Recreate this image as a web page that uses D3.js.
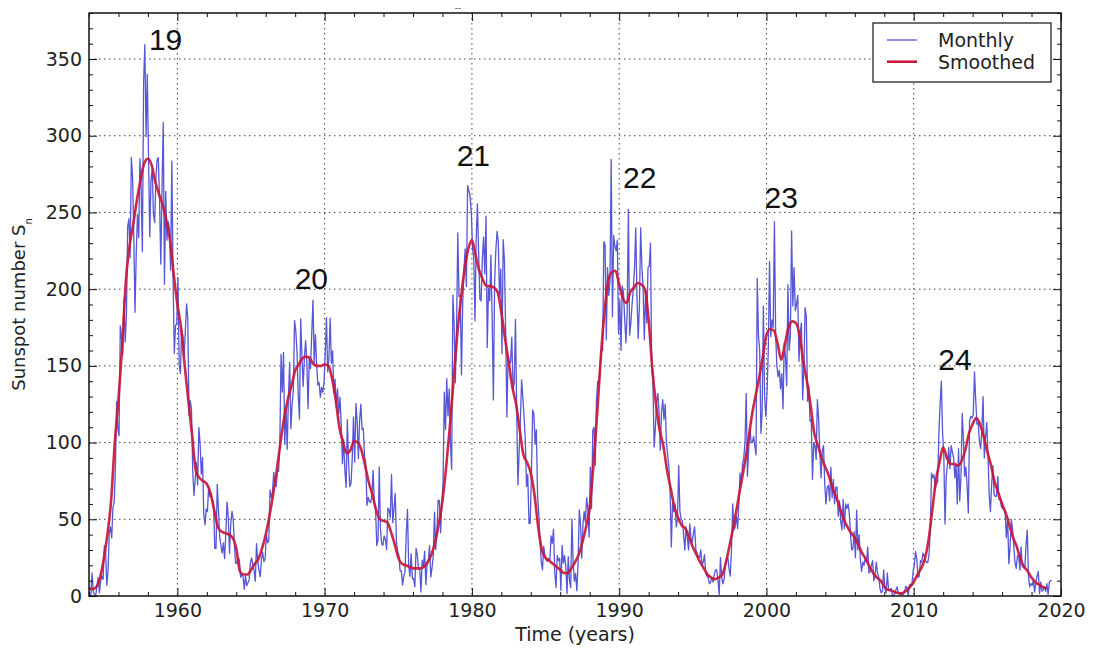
<!DOCTYPE html>
<html>
<head>
<meta charset="utf-8">
<script src="https://cdn.jsdelivr.net/npm/d3@7"></script>
<style>
  body { margin: 0; background: #fff; }
  svg { display: block; }
</style>
</head>
<body>
<svg id="chart" width="1093" height="648"></svg>
<script>
// Monthly mean sunspot number, one row per year, starting Jan 1954
var monthlyStart = 1954;
var monthly1950s = [
    0.3, 0.7, 15.0, 2.5, 1.1, 0.3, 6.8, 11.9, 2.1, 9.9, 13.1, 10.8,
    32.8, 29.5, 7.0, 16.0, 41.0, 45.0, 37.9, 57.8, 60.6, 83.1, 126.7, 109.2,
    104.5, 176.1, 168.1, 157.2, 194.0, 165.6, 183.3, 240.8, 245.9, 220.5, 285.8, 272.8,
    234.3, 184.9, 223.5, 248.8, 233.7, 285.0, 265.8, 224.4, 334.8, 359.4, 299.5, 340.0,
    287.6, 234.2, 270.8, 278.3, 248.9, 243.5, 271.8, 284.3, 285.7, 257.7, 216.3, 266.4,
    308.7, 203.2, 263.7, 231.9, 244.2, 239.6, 212.4, 283.4, 206.2, 158.2, 176.1, 177.5
];
var monthly1960s = [
    207.7, 150.5, 145.1, 173.2, 169.8, 156.5, 172.8, 190.4, 180.6, 117.6, 127.2, 121.6,
    82.2, 65.5, 75.3, 87.2, 72.4, 109.9, 99.7, 79.4, 90.3, 53.5, 46.3, 56.8,
    55.0, 71.4, 64.8, 65.9, 62.1, 59.6, 31.0, 31.0, 72.8, 56.1, 38.2, 32.9,
    28.1, 34.6, 24.3, 41.6, 61.1, 51.0, 27.8, 47.1, 55.1, 50.1, 33.2, 21.2,
    21.7, 25.1, 23.4, 12.2, 13.5, 12.9, 4.4, 13.2, 6.7, 8.7, 10.5, 21.4,
    24.9, 20.2, 16.6, 9.7, 34.2, 22.6, 16.9, 12.6, 23.9, 28.5, 22.4, 24.1,
    40.0, 34.6, 35.9, 69.2, 64.3, 67.7, 80.5, 72.7, 71.3, 81.2, 81.2, 100.0,
    157.5, 132.9, 158.8, 98.7, 122.8, 95.6, 129.9, 152.2, 109.1, 125.2, 133.9, 179.5,
    173.0, 158.9, 130.9, 115.3, 180.6, 156.6, 136.5, 155.2, 166.4, 152.9, 122.1, 155.9,
    148.2, 171.1, 192.8, 151.7, 170.4, 150.5, 137.5, 139.2, 129.6, 135.9, 132.8, 139.0
];
var monthly1970s = [
    158.3, 181.5, 146.1, 155.5, 181.1, 151.7, 159.8, 132.1, 141.3, 123.0, 135.2, 118.6,
    129.6, 112.2, 86.2, 102.0, 81.7, 70.7, 115.0, 87.2, 71.3, 73.4, 89.7, 116.7,
    87.3, 125.5, 113.7, 89.7, 114.3, 125.0, 108.6, 109.1, 90.9, 87.0, 59.1, 64.3,
    61.6, 60.9, 65.3, 81.9, 60.2, 56.1, 32.8, 36.4, 84.2, 43.6, 33.9, 33.1,
    39.2, 36.9, 30.2, 57.2, 56.1, 51.1, 79.2, 47.7, 57.1, 66.9, 35.5, 29.1,
    26.8, 16.3, 16.3, 7.2, 12.8, 16.2, 40.0, 56.4, 19.7, 12.9, 27.5, 11.1,
    11.5, 6.1, 31.1, 26.7, 17.6, 17.3, 2.7, 23.3, 19.2, 29.3, 7.4, 21.7,
    23.3, 32.8, 12.4, 18.3, 26.4, 54.7, 30.4, 42.7, 62.5, 62.2, 41.3, 61.3,
    73.7, 132.9, 108.6, 141.6, 117.4, 135.0, 100.0, 82.5, 196.2, 177.6, 139.0, 174.2,
    236.6, 195.3, 196.0, 144.1, 190.8, 212.3, 226.3, 201.9, 267.5, 264.4, 260.3, 250.3
];
var monthly1980s = [
    226.6, 220.1, 179.2, 233.0, 255.5, 223.4, 193.5, 192.3, 220.1, 233.9, 210.0, 247.6,
    161.9, 200.6, 192.4, 222.1, 181.1, 127.8, 204.2, 225.4, 237.6, 230.6, 195.3, 213.1,
    157.9, 232.3, 218.4, 173.2, 116.7, 156.8, 150.7, 152.8, 168.7, 134.5, 139.3, 180.3,
    119.7, 72.4, 94.4, 114.6, 140.9, 129.4, 116.7, 102.0, 71.4, 79.2, 47.3, 47.4,
    80.9, 121.3, 118.6, 99.0, 108.5, 65.5, 53.1, 36.2, 22.3, 17.0, 32.4, 26.6,
    23.4, 22.6, 24.4, 23.0, 39.1, 34.4, 43.6, 15.8, 5.5, 26.4, 23.0, 24.6,
    3.6, 32.9, 21.4, 26.3, 19.5, 1.6, 25.7, 10.5, 5.4, 50.3, 21.6, 9.7,
    14.8, 3.4, 20.9, 56.2, 46.9, 24.7, 46.9, 55.0, 48.1, 64.0, 56.7, 38.5,
    84.0, 57.0, 108.0, 110.0, 85.0, 128.0, 140.0, 138.0, 150.0, 160.0, 160.0, 231.0,
    229.0, 167.0, 214.0, 196.0, 205.0, 284.5, 182.0, 235.0, 228.0, 225.0, 232.0, 171.0
];
var monthly1990s = [
    193.0, 160.0, 202.0, 198.0, 180.0, 165.0, 185.0, 252.0, 170.0, 178.0, 190.0, 200.0,
    214.0, 240.0, 195.0, 168.0, 190.0, 240.0, 215.0, 200.0, 167.0, 199.0, 178.0, 214.0,
    215.0, 230.0, 150.0, 139.0, 97.0, 110.0, 126.0, 132.0, 120.0, 95.0, 120.0, 128.0,
    115.0, 125.0, 100.0, 92.0, 84.0, 68.0, 32.0, 62.0, 55.0, 60.0, 45.0, 50.0,
    85.0, 55.0, 50.0, 49.0, 40.0, 30.0, 45.0, 38.0, 30.0, 47.0, 38.0, 35.0,
    41.0, 45.0, 30.0, 28.0, 25.0, 25.0, 30.0, 20.0, 22.0, 27.0, 15.0, 13.0,
    12.0, 8.0, 9.0, 12.0, 9.0, 14.0, 17.0, 17.0, 10.0, 1.0, 25.0, 12.0,
    8.0, 11.0, 20.0, 24.0, 25.0, 18.0, 13.0, 30.0, 60.0, 43.0, 45.0, 52.0,
    44.0, 60.0, 80.0, 72.0, 86.0, 90.0, 100.0, 132.0, 78.0, 95.0, 110.0, 100.0,
    100.0, 104.0, 98.0, 92.0, 207.0, 170.0, 160.0, 106.0, 120.0, 189.0, 130.0, 117.0
];
var monthly2000s = [
    133.0, 160.0, 218.0, 169.0, 180.0, 175.0, 244.0, 170.0, 150.0, 143.0, 147.0, 135.0,
    145.0, 122.0, 165.0, 156.0, 137.0, 203.0, 160.0, 170.0, 238.0, 189.0, 214.0, 186.0,
    190.0, 196.0, 153.0, 172.0, 178.0, 128.0, 149.0, 188.0, 182.0, 127.0, 137.0, 114.0,
    115.0, 76.0, 100.0, 98.0, 89.0, 128.0, 116.0, 93.0, 77.0, 95.0, 98.0, 73.0,
    60.0, 71.0, 72.0, 62.0, 84.0, 64.0, 76.0, 60.0, 71.0, 71.0, 52.0, 62.0,
    49.0, 43.0, 63.0, 44.0, 60.0, 57.0, 60.0, 54.0, 40.0, 30.0, 31.0, 42.0,
    25.0, 56.0, 30.0, 40.0, 24.0, 16.0, 22.0, 20.0, 25.0, 22.0, 32.0, 15.0,
    16.0, 20.0, 23.0, 10.0, 13.0, 22.0, 15.0, 12.0, 5.0, 2.0, 3.0, 17.0,
    5.0, 2.0, 15.0, 4.0, 4.0, 5.0, 1.0, 0.5, 1.5, 4.0, 6.0, 1.5,
    1.3, 1.2, 0.6, 1.2, 2.9, 6.3, 5.5, 0.0, 7.1, 7.7, 6.9, 16.3
];
var monthly2010s = [
    20.0, 29.0, 24.0, 12.0, 13.0, 23.0, 22.0, 28.0, 26.0, 23.0, 22.0, 22.0,
    27.0, 44.0, 80.0, 77.0, 79.0, 70.0, 73.0, 74.0, 106.0, 125.0, 140.0, 106.0,
    92.0, 47.0, 78.0, 86.0, 97.0, 83.0, 98.0, 94.0, 90.0, 77.0, 86.0, 60.0,
    96.0, 62.0, 78.0, 119.0, 102.0, 78.0, 84.0, 72.0, 54.0, 114.0, 117.0, 116.0,
    118.0, 146.0, 128.0, 112.0, 113.0, 101.0, 96.0, 108.0, 130.0, 90.0, 103.0, 113.0,
    93.0, 66.0, 55.0, 73.0, 85.0, 66.0, 65.0, 65.0, 78.0, 63.0, 63.0, 58.0,
    57.0, 57.0, 54.0, 38.0, 51.0, 21.0, 32.0, 50.0, 44.0, 33.0, 22.0, 18.0,
    26.0, 27.0, 17.0, 32.0, 19.0, 19.0, 18.0, 33.0, 43.0, 13.0, 6.0, 8.0,
    7.0, 10.0, 2.5, 9.0, 13.0, 16.0, 1.6, 9.0, 3.0, 4.0, 6.0, 3.0,
    8.0, 1.0, 9.0, 10.0, 10.0
];

// 13-month smoothed sunspot number, read every quarter from Jan 1954
var smoothedStart = 1954, smoothedStep = 0.25;
var smoothed = [
    5, 4.5, 6, 12,   24, 40, 62, 100,   128, 162, 205, 228,   242, 258, 271, 282,
    285, 281, 270, 262,   255, 245, 232, 210,
    190, 175, 150, 127,   105, 82, 77, 75,   73, 67, 56, 45,   42, 41, 40, 38,
    31, 16, 14, 14,   17, 21, 24, 31,   40, 52, 66, 82,   100, 116, 128, 137,
    147, 151, 155, 156,   155, 151, 150, 150,
    151, 150, 142, 128,   110, 100, 93, 95,   101, 100, 95, 85,   74, 66, 56, 50,
    49, 48, 42, 34,   25, 21, 20, 19,   18, 18, 18, 19,   22, 27, 35, 47,
    62, 84, 110, 140,   170, 193, 213, 226,
    232, 222, 212, 206,   202, 202, 201, 198,   185, 168, 152, 136,   125, 108, 92, 87,
    80, 66, 45, 30,   25, 23, 21, 19,   17, 15, 15, 18,   22, 27, 35, 45,
    58, 85, 118, 155,   185, 205, 211, 212,
    203, 194, 191, 198,   201, 204, 203, 200,   180, 148, 125, 108,   98, 82, 70, 58,
    51, 46, 44, 38,   32, 27, 22, 18,   14, 12, 11, 12,   14, 22, 33, 45,
    58, 72, 85, 100,   117, 130, 142, 156,
    170, 174, 173, 165,   154, 164, 175, 179,   178, 170, 153, 140,   124, 106, 98, 90,
    84, 78, 70, 64,   57, 50, 45, 41,   38, 33, 28, 24,   19, 15, 12, 10,
    6, 4, 3.5, 2.5,   1.8, 2, 3.5, 6,
    9, 14, 18, 24,   36, 55, 75, 87,   97, 90, 86, 86,   85, 88, 95, 106,
    112, 116, 112, 104,   94, 85, 74, 67,   60, 54, 46, 38,   32, 24, 19, 16,
    12, 9, 7.5, 6,   5
];

var xMajor = [1960, 1970, 1980, 1990, 2000, 2010, 2020];
var yMajor = [0, 50, 100, 150, 200, 250, 300, 350];
var seriesNames = ["Monthly", "Smoothed"];
var seriesColors = ["#5656d8", "#c8173a"];

// Solar cycle numbers written above each maximum
var cycleNames = ["19", "20", "21", "22", "23", "24"];
var cycleYears = [1959.2, 1969.1, 1980.1, 1991.4, 2001.0, 2012.8];
var cycleValues = [356, 200, 280, 266, 253, 147];

var svg = d3.select("#chart"),
    margin = {top: 13, right: 32, bottom: 52, left: 89},
    width = +svg.attr("width") - margin.left - margin.right,
    height = +svg.attr("height") - margin.top - margin.bottom;

var font = "'DejaVu Sans', 'Bitstream Vera Sans', sans-serif";

var x = d3.scaleLinear().domain([1954, 2020]).range([0, width]),
    y = d3.scaleLinear().domain([0, 380]).range([height, 0]);

var xMinor = d3.range(1954, 2021, 2).filter(function(d) { return xMajor.indexOf(d) == -1; }),
    yMinor = d3.range(0, 381, 10).filter(function(d) { return d % 50 != 0; });

var monthly = [].concat(monthly1950s, monthly1960s, monthly1970s, monthly1980s, monthly1990s, monthly2000s, monthly2010s);

var g = svg.append("g")
    .attr("transform", "translate(" + margin.left + "," + margin.top + ")");

svg.append("defs").append("clipPath").attr("id", "plot-clip")
    .append("rect").attr("width", width).attr("height", height);

// Dotted grid at major ticks
g.append("g").selectAll("line")
    .data(xMajor.filter(function(d) { return d > 1954 && d < 2020; }))
    .enter().append("line")
    .attr("x1", function(d) { return x(d); }).attr("x2", function(d) { return x(d); })
    .attr("y1", 0).attr("y2", height)
    .attr("stroke", "#444").attr("stroke-width", 1).attr("stroke-dasharray", "1.5,3.5");

g.append("g").selectAll("line")
    .data(yMajor.filter(function(d) { return d > 0; }))
    .enter().append("line")
    .attr("x1", 0).attr("x2", width)
    .attr("y1", function(d) { return y(d); }).attr("y2", function(d) { return y(d); })
    .attr("stroke", "#444").attr("stroke-width", 1).attr("stroke-dasharray", "1.5,3.5");

// Series
var plot = g.append("g").attr("clip-path", "url(#plot-clip)");

var monthlyLine = d3.line()
    .x(function(d, i) { return x(monthlyStart + (i + 0.5) / 12); })
    .y(function(d) { return y(d); });

var smoothedLine = d3.line()
    .x(function(d, i) { return x(smoothedStart + i * smoothedStep); })
    .y(function(d) { return y(d); })
    .curve(d3.curveMonotoneX);

plot.append("path")
    .datum(monthly)
    .attr("fill", "none")
    .attr("stroke", seriesColors[0])
    .attr("stroke-width", 1.3)
    .attr("stroke-linejoin", "round")
    .attr("d", monthlyLine);

plot.append("path")
    .datum(smoothed)
    .attr("fill", "none")
    .attr("stroke", seriesColors[1])
    .attr("stroke-width", 2.6)
    .attr("stroke-opacity", 0.92)
    .attr("stroke-linejoin", "round")
    .attr("d", smoothedLine);

// Axes: ticks point inward on all four sides
function styleAxis(sel) {
    sel.select(".domain").remove();
    sel.selectAll(".tick line").attr("stroke", "#111").attr("stroke-width", 1);
    sel.selectAll(".tick text").attr("fill", "#222").style("font-family", font).style("font-size", "19px");
}

g.append("g").attr("transform", "translate(0," + height + ")")
    .call(d3.axisBottom(x).tickValues(xMajor).tickSize(-8).tickPadding(8).tickFormat(d3.format("d")))
    .call(styleAxis);
g.append("g").attr("transform", "translate(0," + height + ")")
    .call(d3.axisBottom(x).tickValues(xMinor).tickSize(-4).tickFormat(""))
    .call(styleAxis);
g.append("g")
    .call(d3.axisTop(x).tickValues(xMajor).tickSize(-8).tickFormat(""))
    .call(styleAxis);
g.append("g")
    .call(d3.axisTop(x).tickValues(xMinor).tickSize(-4).tickFormat(""))
    .call(styleAxis);

g.append("g")
    .call(d3.axisLeft(y).tickValues(yMajor).tickSize(-8).tickPadding(7))
    .call(styleAxis);
g.append("g")
    .call(d3.axisLeft(y).tickValues(yMinor).tickSize(-4).tickFormat(""))
    .call(styleAxis);
g.append("g").attr("transform", "translate(" + width + ",0)")
    .call(d3.axisRight(y).tickValues(yMajor).tickSize(-8).tickFormat(""))
    .call(styleAxis);
g.append("g").attr("transform", "translate(" + width + ",0)")
    .call(d3.axisRight(y).tickValues(yMinor).tickSize(-4).tickFormat(""))
    .call(styleAxis);

// Frame
g.append("rect")
    .attr("width", width).attr("height", height)
    .attr("fill", "none").attr("stroke", "#111").attr("stroke-width", 1.5);

// Cycle numbers
g.selectAll(".cycle-label")
    .data(cycleNames)
    .enter().append("text")
    .attr("class", "cycle-label")
    .attr("x", function(d, i) { return x(cycleYears[i]); })
    .attr("y", function(d, i) { return y(cycleValues[i]); })
    .attr("text-anchor", "middle")
    .style("font-family", "'Liberation Sans', Arial, sans-serif")
    .style("font-size", "30px")
    .attr("fill", "#111")
    .text(function(d) { return d; });

// Legend
var legend = g.append("g").attr("transform", "translate(" + (width - 188) + ",10)");
legend.append("rect")
    .attr("width", 178).attr("height", 59)
    .attr("fill", "#fff").attr("stroke", "#111").attr("stroke-width", 1.2);
legend.selectAll(".legend-line")
    .data(seriesNames)
    .enter().append("line")
    .attr("x1", 14).attr("x2", 44)
    .attr("y1", function(d, i) { return 17 + i * 21.7; })
    .attr("y2", function(d, i) { return 17 + i * 21.7; })
    .attr("stroke", function(d, i) { return seriesColors[i]; })
    .attr("stroke-width", function(d, i) { return i == 0 ? 1.3 : 2.6; });
legend.selectAll(".legend-text")
    .data(seriesNames)
    .enter().append("text")
    .attr("x", 65)
    .attr("y", function(d, i) { return 24 + i * 21.7; })
    .style("font-family", font).style("font-size", "19px")
    .attr("fill", "#222")
    .text(function(d) { return d; });

// Axis titles
svg.append("text")
    .attr("x", margin.left + width / 2)
    .attr("y", 641)
    .attr("text-anchor", "middle")
    .style("font-family", font).style("font-size", "19px")
    .attr("fill", "#222")
    .text("Time (years)");

var yTitle = svg.append("text")
    .attr("transform", "translate(25," + (margin.top + height / 2) + ") rotate(-90)")
    .attr("text-anchor", "middle")
    .style("font-family", font).style("font-size", "18px")
    .attr("fill", "#222");
yTitle.append("tspan").text("Sunspot number S");
yTitle.append("tspan").attr("dy", 7).style("font-size", "10px").text("n");

// Small mark above the frame
svg.append("text")
    .attr("x", 458).attr("y", 11)
    .attr("text-anchor", "middle")
    .style("font-family", font).style("font-size", "9px")
    .attr("fill", "#444")
    .text("--");
</script>
</body>
</html>
